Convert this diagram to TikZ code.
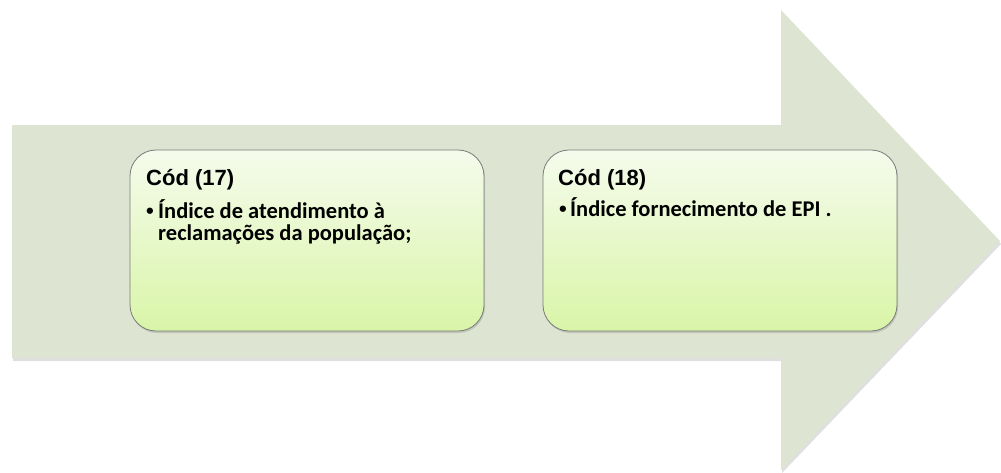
\documentclass[tikz,border=0pt]{standalone}
\usepackage{fontspec}
\setmainfont{Carlito}
\newfontfamily\arialfont{Liberation Sans}
\usetikzlibrary{shadows}
\definecolor{arrowfill}{HTML}{DDE5D2}
\definecolor{boxtop}{HTML}{F5FBEC}
\definecolor{boxbot}{HTML}{D9F5A8}
\definecolor{boxline}{HTML}{7A7A7A}
\tikzset{
  bigarrow/.style={fill=arrowfill, draw=none, drop shadow={shadow xshift=1pt, shadow yshift=-3pt, opacity=0.25}},
  card/.style={draw=boxline, line width=0.8pt, rounded corners=26pt, minimum width=354pt, minimum height=181pt,
    top color=boxtop, bottom color=boxbot, inner sep=0pt,
    drop shadow={shadow xshift=1pt, shadow yshift=-2pt, opacity=0.3}},
  title/.style={anchor=base west, inner sep=0pt, font=\arialfont\bfseries\fontsize{22}{26}\selectfont},
  item/.style={anchor=base west, inner sep=0pt, align=left, font=\bfseries\fontsize{22.5}{22}\selectfont},
  bul/.style={anchor=base west, inner sep=0pt, font=\arialfont\bfseries\fontsize{22}{22}\selectfont}
}
\begin{document}
\begin{tikzpicture}[x=1pt,y=-1pt]
\useasboundingbox (0,0) rectangle (1001,472);
\path[bigarrow] (12,125) -- (781,125) -- (781,10) -- (1000,241) -- (781,470) -- (781,358) -- (12,358) -- cycle;
\node[card] (b1) at (307,240.5) {};
\node[card] (b2) at (720,240.5) {};
\node[title] (t1) at (146,185) {Cód (17)};
\node[bul] (u1) at (146,218) {•};
\node[item] (i1) at (158,240) {Índice de atendimento à\\reclamações da população;};
\node[title] (t2) at (558,185) {Cód (18)};
\node[bul] (u2) at (559,216) {•};
\node[item] (i2) at (570,216) {Índice fornecimento de EPI .};
\end{tikzpicture}
\end{document}
